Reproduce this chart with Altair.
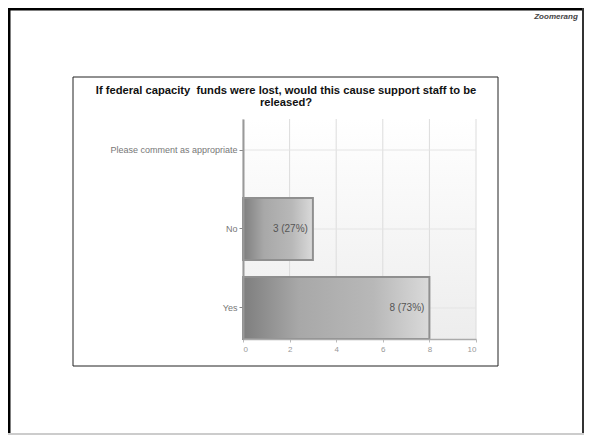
import altair as alt
import pandas as pd

# ---- data ----
categories = ["Please comment as appropriate", "No", "Yes"]
counts = [0, 3, 8]
percents = [0, 27, 73]
x_ticks = [0, 2, 4, 6, 8, 10]
title_lines = ["If federal capacity\u00a0 funds were lost, would this cause support staff to be", "released?"]
logo_text = "Zoomerang"

FONT = "Liberation Sans"
W, H = 233, 220

bars_df = pd.DataFrame({
    "category": [c for c, n in zip(categories, counts) if n > 0],
    "count": [n for n in counts if n > 0],
})
labels_df = pd.DataFrame({
    "category": [c for c, n in zip(categories, counts) if n > 0],
    "count": [n for n in counts if n > 0],
    "label": [f"{n} ({p}%)" for n, p in zip(counts, percents) if n > 0],
})
xgrid_df = pd.DataFrame({"v": x_ticks})
ygrid_df = pd.DataFrame({"category": categories})
one = pd.DataFrame({"a": [0]})

x_scale = alt.Scale(domain=[0, 10])
y_scale = alt.Scale(paddingInner=0.215, paddingOuter=0)
y_sort = categories

x_axis = alt.Axis(values=x_ticks, title=None, labelColor="#999", labelFontSize=8,
                  labelFont=FONT, tickColor="#bbb", tickSize=3, domainColor="#aaa",
                  domainWidth=1.5, grid=False, zindex=1, labelPadding=3)
y_axis = alt.Axis(title=None, labelColor="#777", labelFontSize=9, labelFont=FONT,
                  tickColor="#888", tickSize=4, domainColor="#999", domainWidth=2,
                  grid=False, zindex=1, labelPadding=2)

# plot-area background gradient
bg = alt.Chart(one).mark_rect(
    color=alt.LinearGradient(gradient="linear",
                             stops=[alt.GradientStop(color="#ffffff", offset=0),
                                    alt.GradientStop(color="#ededed", offset=1)],
                             x1=0, x2=0, y1=0, y2=1)
).encode(x=alt.value(0), x2=alt.value(W), y=alt.value(0), y2=alt.value(H))

xgrid = alt.Chart(xgrid_df).mark_rule(color="#dcdcdc", strokeWidth=1).encode(
    x=alt.X("v:Q", scale=x_scale, axis=x_axis), y=alt.value(0), y2=alt.value(H))

ygrid = alt.Chart(ygrid_df).mark_rule(color="#e4e4e4", strokeWidth=1).encode(
    y=alt.Y("category:N", sort=y_sort, scale=y_scale, axis=y_axis),
    x=alt.value(0), x2=alt.value(W))

bars = alt.Chart(bars_df).mark_bar(
    color=alt.LinearGradient(gradient="linear",
                             stops=[alt.GradientStop(color="#7e7e7e", offset=0),
                                    alt.GradientStop(color="#a8a8a8", offset=0.3),
                                    alt.GradientStop(color="#b8b8b8", offset=0.7),
                                    alt.GradientStop(color="#dadada", offset=1)],
                             x1=0, x2=1, y1=0, y2=0),
    stroke="#8f8f8f", strokeWidth=2
).encode(
    x=alt.X("count:Q", scale=x_scale, axis=x_axis),
    y=alt.Y("category:N", sort=y_sort, scale=y_scale, axis=y_axis),
)

labels = alt.Chart(labels_df).mark_text(align="right", baseline="middle", dx=-5,
                                        fontSize=10, font=FONT, color="#555").encode(
    x=alt.X("count:Q", scale=x_scale),
    y=alt.Y("category:N", sort=y_sort, scale=y_scale),
    text="label:N",
)

# chart title
t1 = alt.Chart(one).mark_text(fontSize=11.2, fontWeight="bold", font=FONT, color="#111",
                              align="center", baseline="middle").encode(
    x=alt.value(43), y=alt.value(-28), text=alt.value(title_lines[0]))
t2 = alt.Chart(one).mark_text(fontSize=11.2, fontWeight="bold", font=FONT, color="#111",
                              align="center", baseline="middle").encode(
    x=alt.value(43), y=alt.value(-16.5), text=alt.value(title_lines[1]))

# chart box
box = alt.Chart(one).mark_rect(fill="transparent", stroke="#222", strokeWidth=1).encode(
    x=alt.value(-170), x2=alt.value(255), y=alt.value(-42), y2=alt.value(247))

# slide frame
frame_top = alt.Chart(one).mark_rule(color="#000", strokeWidth=3).encode(
    x=alt.value(-235), x2=alt.value(341), y=alt.value(-110))
frame_left = alt.Chart(one).mark_rule(color="#000", strokeWidth=3).encode(
    x=alt.value(-234), y=alt.value(-111), y2=alt.value(316))
frame_right = alt.Chart(one).mark_rule(color="#333", strokeWidth=2).encode(
    x=alt.value(340), y=alt.value(-111), y2=alt.value(316))
frame_bottom = alt.Chart(one).mark_rule(color="#ccc", strokeWidth=2).encode(
    x=alt.value(-235), x2=alt.value(341), y=alt.value(315))

logo = alt.Chart(one).mark_text(fontSize=8, fontWeight="bold", fontStyle="italic",
                                font=FONT, color="#444", align="center").encode(
    x=alt.value(313), y=alt.value(-102), text=alt.value(logo_text))

chart = alt.layer(
    bg, xgrid, ygrid, bars, labels, t1, t2, box,
    frame_top, frame_left, frame_right, frame_bottom, logo
).properties(
    width=W, height=H,
    padding={"left": 235, "top": 111, "right": 110, "bottom": 97},
    autosize=alt.AutoSizeParams(type="none"),
    background="white",
).configure_view(stroke=None)

chart.save("out.html", embed_options={"renderer": "svg", "actions": False})
